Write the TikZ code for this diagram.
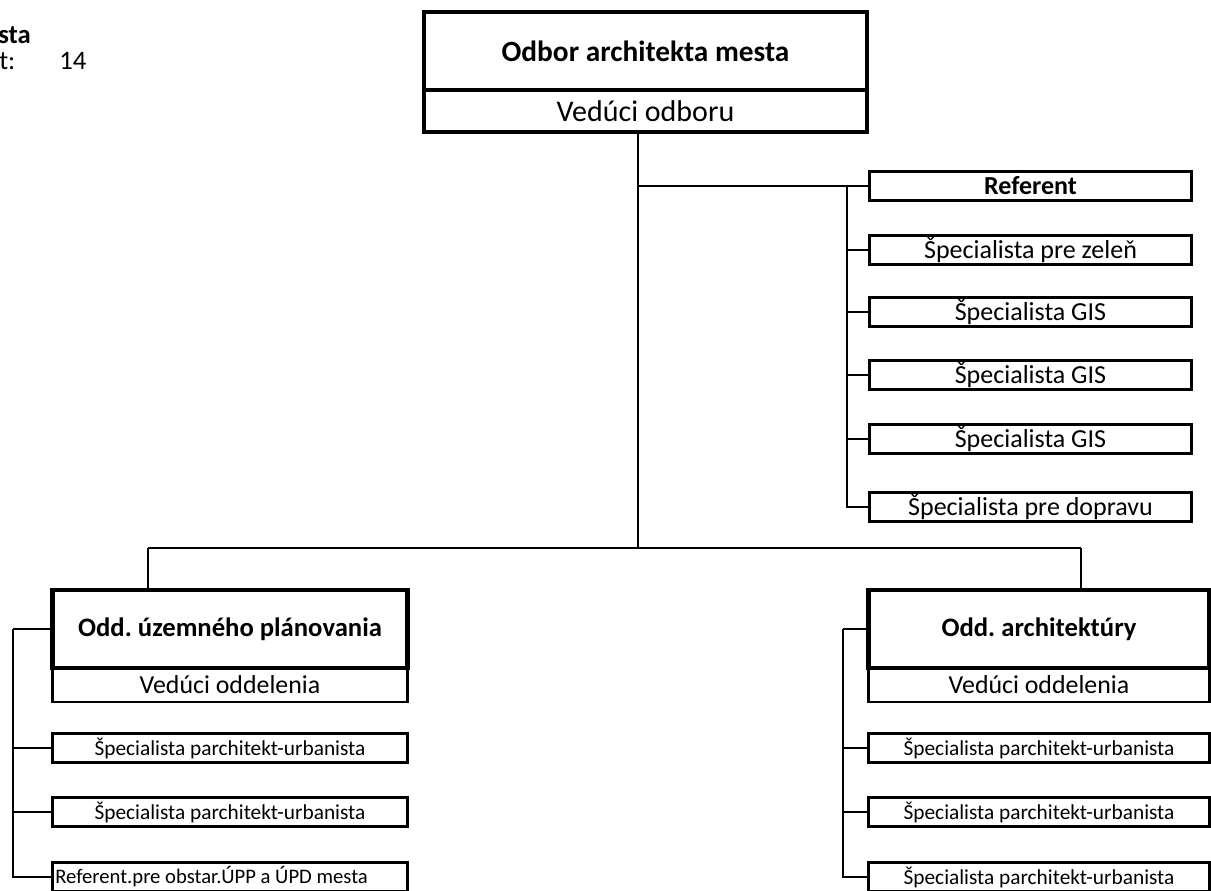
\documentclass[tikz,border=0pt]{standalone}
\usepackage{fontspec}
\setmainfont{Carlito}
\frenchspacing
\usetikzlibrary{positioning}
\tikzset{
  link/.style={line width=2.1pt},
  headbox/.style={draw,line width=3.4pt,inner sep=0pt,outer sep=0pt,
    minimum height=58.5pt,font=\bfseries\fontsize{20}{24}\selectfont},
  leadbox/.style={draw,line width=2pt,inner sep=0pt,outer sep=0pt,
    minimum height=25.5pt,font=\fontsize{19.4}{23}\selectfont},
  staffbox/.style={draw,line width=2.1pt,inner sep=0pt,outer sep=0pt,
    minimum width=242pt,minimum height=22pt,font=\fontsize{19.5}{23}\selectfont},
  subbox/.style={draw,line width=2.1pt,inner sep=0pt,outer sep=0pt,
    minimum height=22pt,font=\fontsize{16}{19}\selectfont},
  note/.style={anchor=west,inner sep=0pt,font=\fontsize{20}{24}\selectfont},
}

\begin{document}
\begin{tikzpicture}[x=0.75pt,y=-0.75pt]
\useasboundingbox (0,0) rectangle (1211,891);

% header text, cut at the margin
\node[note] (name) at (-2,35) {\bfseries sta};
\node[note] (countlabel) at (-1,61) {t:};
\node[note] (count) at (59,61) {14};

% head of the department
\node[leadbox,line width=3.4pt,minimum width=332pt,minimum height=31.5pt,
  font=\fontsize{22.5}{26}\selectfont] (odborlead) at (645.5,111) {Vedúci odboru};
\node[headbox,minimum width=332pt,font=\bfseries\fontsize{22}{26}\selectfont,
  above=0pt of odborlead] (odbor) {Odbor architekta mesta};

% staff under the head
\node[staffbox,font=\bfseries\fontsize{19.5}{23}\selectfont] (referent) at (1030.5,186) {Referent};
\node[staffbox] (zelen) at (1030.5,250) {Špecialista pre zeleň};
\node[staffbox] (gisa) at (1030.5,312) {Špecialista GIS};
\node[staffbox] (gisb) at (1030.5,375) {Špecialista GIS};
\node[staffbox] (gisc) at (1030.5,439) {Špecialista GIS};
\node[staffbox] (doprava) at (1030.5,507) {Špecialista pre dopravu};

% the two sections
\node[leadbox,minimum width=266pt] (uplead) at (230,685) {Vedúci oddelenia};
\node[headbox,minimum width=266pt,above=0pt of uplead] (up) {Odd. územného plánovania};
\node[leadbox,minimum width=256pt] (archlead) at (1039,685) {Vedúci oddelenia};
\node[headbox,minimum width=256pt,above=0pt of archlead] (arch) {Odd. architektúry};

\node[subbox,minimum width=266pt] (upa) at (230,748) {Špecialista parchitekt-urbanista};
\node[subbox,minimum width=266pt] (upb) at (230,812) {Špecialista parchitekt-urbanista};
\node[subbox,minimum width=266pt,text width=262pt,align=flush left,
  font=\fontsize{15.5}{18}\selectfont] (upc) at (230,877) {Referent.pre obstar.ÚPP a ÚPD mesta};
\node[subbox,minimum width=256pt] (archa) at (1039,748) {Špecialista parchitekt-urbanista};
\node[subbox,minimum width=256pt] (archb) at (1039,812) {Špecialista parchitekt-urbanista};
\node[subbox,minimum width=256pt] (archc) at (1039,877) {Špecialista parchitekt-urbanista};

% connectors
\coordinate (staff) at (638,186);
\coordinate (fork) at (638,548);
\coordinate (staffbar) at (847,186);
\coordinate (upfork) at (148,548);
\coordinate (archfork) at (1081,548);
\coordinate (upbar) at (13,629);
\coordinate (archbar) at (843,629);

\draw[link] (odborlead.south -| staff) -- (fork);
\draw[link] (staff) -- (referent.west);
\foreach \n in {zelen,gisa,gisb,gisc,doprava}
  \draw[link] (staffbar) |- (\n.west);
\draw[link] (upfork) -- (archfork);
\draw[link] (upfork) -- (upfork |- up.north);
\draw[link] (archfork) -- (archfork |- arch.north);
\draw[link] (up.west) -- (upbar);
\foreach \n in {upa,upb,upc}
  \draw[link] (upbar) |- (\n.west);
\draw[link] (arch.west) -- (archbar);
\foreach \n in {archa,archb,archc}
  \draw[link] (archbar) |- (\n.west);
\end{tikzpicture}
\end{document}
